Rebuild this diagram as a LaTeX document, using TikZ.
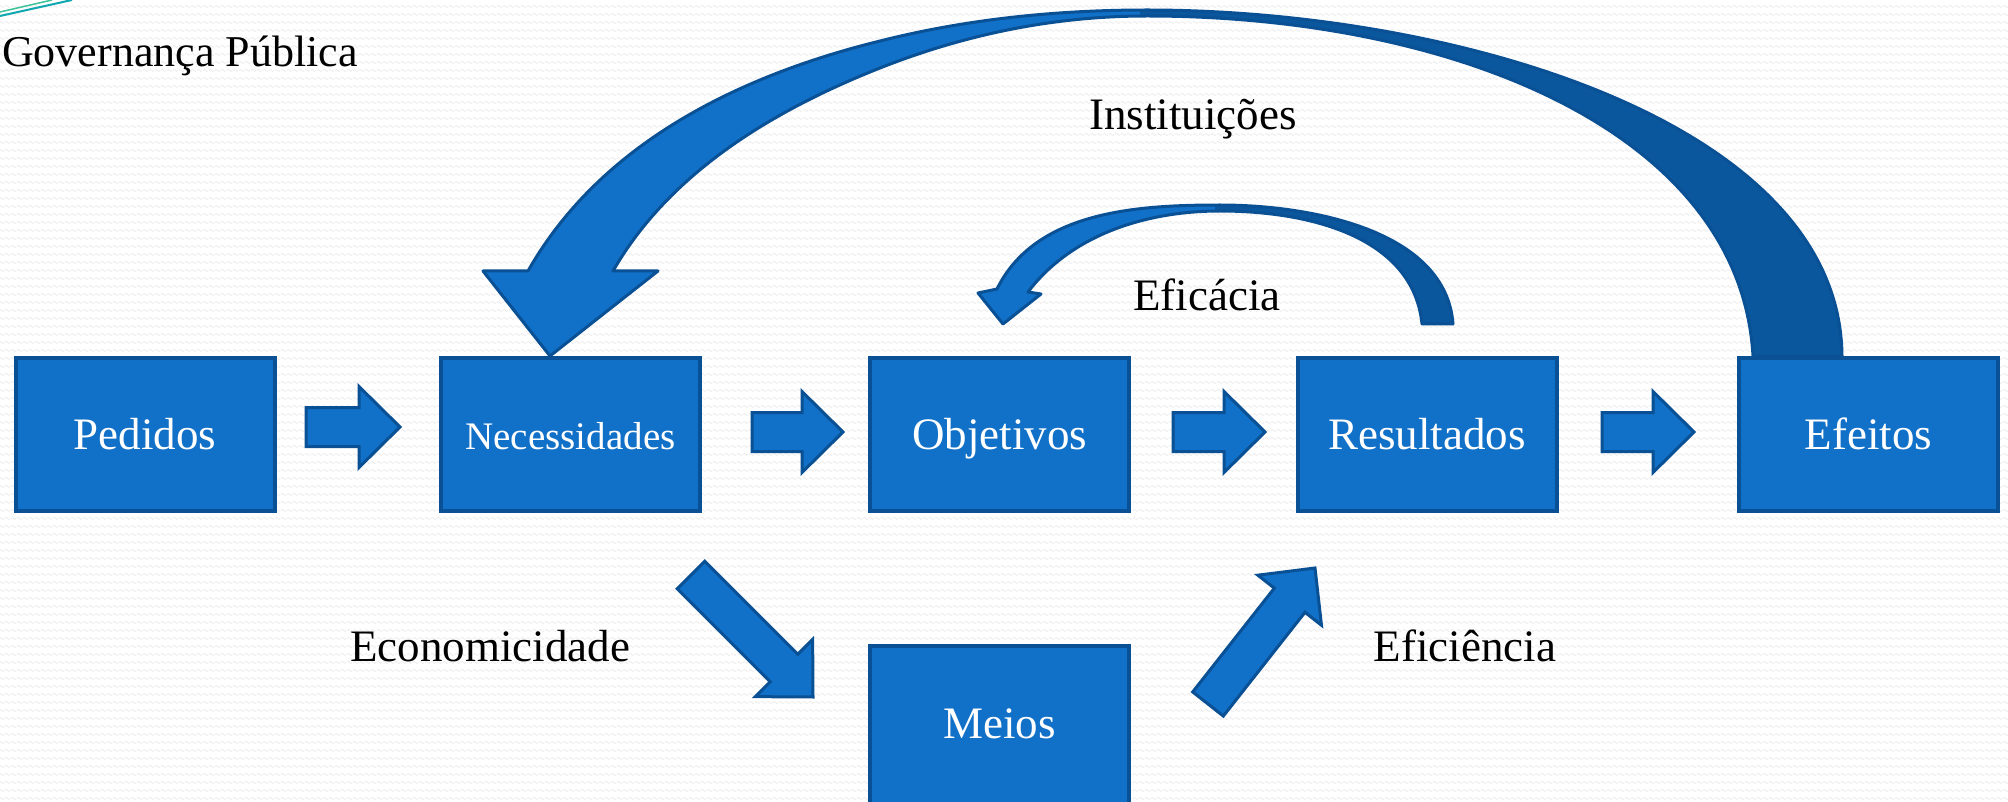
\documentclass[tikz,border=0pt]{standalone}
\usepackage{fontspec}
\setmainfont{Liberation Serif}
\usetikzlibrary{calc,patterns}

\pgfdeclarepatternformonly{bgwaves}{\pgfqpoint{0pt}{0pt}}{\pgfqpoint{6pt}{8pt}}{\pgfqpoint{6pt}{8pt}}{%
  \pgfsetlinewidth{0.9pt}%
  \pgfpathmoveto{\pgfqpoint{0pt}{4pt}}%
  \pgfpathcurveto{\pgfqpoint{1pt}{5.6pt}}{\pgfqpoint{2pt}{5.6pt}}{\pgfqpoint{3pt}{4pt}}%
  \pgfpathcurveto{\pgfqpoint{4pt}{2.4pt}}{\pgfqpoint{5pt}{2.4pt}}{\pgfqpoint{6pt}{4pt}}%
  \pgfusepath{stroke}%
}

\definecolor{boxblue}{HTML}{1170C7}
\definecolor{edgeblue}{HTML}{0A5094}
\definecolor{backblue}{HTML}{0B579D}
\definecolor{tealA}{HTML}{10A8B0}
\definecolor{tealB}{HTML}{3CC39A}

\tikzset{
  box/.style={draw=edgeblue, line width=4pt, fill=boxblue, minimum width=259pt,
    minimum height=153pt, inner sep=0pt, text=white,
    font=\fontsize{45}{54}\selectfont, text height=30.6pt, text depth=0pt},
  barrow/.style={draw=edgeblue, line width=3pt, fill=boxblue, line join=miter},
  curvedge/.style={draw=edgeblue, line width=3pt, line join=round},
  lbl/.style={font=\fontsize{45}{54}\selectfont, text=black, inner sep=0pt, anchor=base},
}

\newcommand\blockarr[2]{%
  \coordinate (hb) at ($(#2)!41pt!(#1)$);
  \filldraw[barrow] ($(#1)!19.5pt!90:(#2)$) -- ($(hb)!19.5pt!90:(#2)$) -- ($(hb)!40.5pt!90:(#2)$) -- (#2)
    -- ($(hb)!40.5pt!-90:(#2)$) -- ($(hb)!19.5pt!-90:(#2)$) -- ($(#1)!19.5pt!-90:(#2)$) -- cycle;
}

% big curved arrow outline (outer edge, base, inner edge, head)
\def\bigarrowpath{(528,271)
  .. controls (600,144) and (738,76) .. (880,41)
  .. controls (967,19) and (1057,10) .. (1147,10)
  .. controls (1450,10) and (1840,120) .. (1842,356)
  -- (1753,356)
  .. controls (1740,130) and (1450,16) .. (1147,16)
  .. controls (1055,16) and (966,34) .. (880,68)
  .. controls (774,110) and (670,172) .. (613,271)
  -- (658,271) -- (550,356) -- (483,271) -- cycle}

% small curved arrow outline
\def\smallarrowpath{(997,289)
  .. controls (1035,212) and (1134,205) .. (1220,205)
  .. controls (1310,205) and (1446,230) .. (1453,324)
  -- (1422,324)
  .. controls (1413,236) and (1308,211) .. (1220,211)
  .. controls (1147,211) and (1072,234) .. (1028,292)
  -- (1041,294) -- (1003,324) -- (978,293) -- cycle}

\begin{document}
\begin{tikzpicture}[x=1pt,y=-1pt]
\useasboundingbox (0,0) rectangle (2008,802);
\fill[white] (0,0) rectangle (2008,802);
\fill[pattern=bgwaves, pattern color=black!7] (0,0) rectangle (2008,802);

% corner lines
\draw[tealB, line width=1.5pt] (0,12) -- (52,0);
\draw[tealA, line width=2pt] (0,16) -- (72,0);

% big curved arrow (Instituicoes)
\fill[boxblue] \bigarrowpath;
\begin{scope}
  \clip (1140,-10) rectangle (2100,400);
  \fill[backblue] \bigarrowpath;
\end{scope}
\path[curvedge] \bigarrowpath;

% small curved arrow (Eficacia)
\fill[boxblue] \smallarrowpath;
\begin{scope}
  \clip (1215,-10) rectangle (2100,400);
  \fill[backblue] \smallarrowpath;
\end{scope}
\path[curvedge] \smallarrowpath;

% boxes
\node[box] (ped) at (145,434.5) {Pedidos};
\node[box, font=\fontsize{39}{47}\selectfont] (nec) at (570.5,434.5) {Necessidades};
\node[box] (obj) at (999.5,434.5) {Objetivos};
\node[box] (res) at (1427,434.5) {Resultados};
\node[box] (efe) at (1868.5,434.5) {Efeitos};
\node[box, minimum height=164pt, text depth=10.6pt] (mei) at (999.5,728) {Meios};

% straight block arrows
\coordinate (a1t) at (306,427); \coordinate (a1h) at (400,427);
\coordinate (a2t) at (752,432); \coordinate (a2h) at (843,432);
\coordinate (a3t) at (1173,432); \coordinate (a3h) at (1265,432);
\coordinate (a4t) at (1602,432); \coordinate (a4h) at (1694,432);
\coordinate (d1t) at (691,575); \coordinate (d1h) at (813,697);
\coordinate (u1t) at (1208,704); \coordinate (u1h) at (1315,568);
\blockarr{a1t}{a1h}
\blockarr{a2t}{a2h}
\blockarr{a3t}{a3h}
\blockarr{a4t}{a4h}
\blockarr{d1t}{d1h}
\blockarr{u1t}{u1h}

% labels
\node[lbl, anchor=base west, font=\fontsize{44}{53}\selectfont] (gov) at (2,67) {Governança Pública};
\node[lbl] (inst) at (1193,130) {Instituições};
\node[lbl] (efic) at (1207,311) {Eficácia};
\node[lbl] (econ) at (490,661) {Economicidade};
\node[lbl] (efie) at (1465,661) {Eficiência};
\end{tikzpicture}
\end{document}
